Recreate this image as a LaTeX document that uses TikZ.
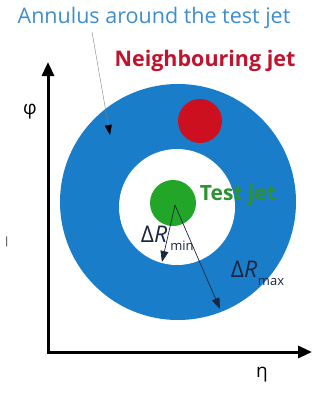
\documentclass[tikz,border=0pt]{standalone}
\usepackage{fontspec}
\setmainfont{Open Sans}
\usetikzlibrary{arrows.meta}
\definecolor{annulusblue}{HTML}{1A7DCA}
\definecolor{labelblue}{HTML}{3C8ECF}
\definecolor{jetred}{HTML}{CC1020}
\definecolor{redtext}{HTML}{C0142E}
\definecolor{jetgreen}{HTML}{22A628}
\definecolor{greentext}{HTML}{2E9232}
\definecolor{deltanavy}{HTML}{1C2640}
\tikzset{
  axis/.style={line width=3pt, -{Triangle[length=14pt,width=12pt]}},
  rarrow/.style={line width=0.7pt, deltanavy, -{Triangle[length=11pt,width=8pt]}},
  deltalabel/.style={text=deltanavy, font=\fontsize{23}{26}\selectfont, inner sep=0pt}
}
\begin{document}
\begin{tikzpicture}[x=1pt, y=-1pt]
\useasboundingbox (0,0) rectangle (323,394);
% annulus and jets
  \fill[annulusblue] (178,202) circle (118);
  \fill[white] (177,207) circle (58);
  \fill[jetgreen] (173,203) circle (23);
  \fill[jetred] (200,121) circle (22);
% axes
\coordinate (origin) at (48,352);
\coordinate (phitop) at (48,62);
\coordinate (etaend) at (312,352);
\draw[axis] ([yshift=-1.5pt]origin) -- (phitop);
\draw[axis] ([xshift=-1.5pt]origin) -- (etaend);
\node (phi) at (30,112) {\fontsize{19}{22}\selectfont φ};
\node (eta) at (262,375) {\fontsize{19}{22}\selectfont η};
\node (tick) at (7,242) {\fontsize{10}{12}\selectfont |};
% labels
\node[text=labelblue, inner sep=0pt] (annulus) at (154,18) {\fontsize{21.5}{25}\selectfont Annulus around the test jet};
\node[text=redtext, inner sep=0pt] (neighbour) at (205,61) {\fontsize{21.5}{25}\selectfont\bfseries Neighbouring jet};
\node[text=greentext, inner sep=0pt] (testjet) at (238,195) {\fontsize{21}{24}\selectfont\bfseries Test jet};
\coordinate (annfrom) at (92,32);
\coordinate (annto) at (110,135);
\draw[gray, -{Triangle[black,length=10pt,width=7pt]}] (annfrom) -- (annto);
% radii
\coordinate (centre) at (175,205);
\coordinate (rmin) at (162,262);
\coordinate (rmax) at (220,309);
\draw[rarrow] (centre) -- (rmin);
\draw[rarrow] (centre) -- (rmax);
\node[deltalabel] (dmin) at (154,234) {Δ\textit{R}};
\node[deltalabel, font=\fontsize{13}{15}\selectfont] (dminsub) at (182,246) {min};
\node[deltalabel] (dmax) at (244,269) {Δ\textit{R}};
\node[deltalabel, font=\fontsize{13}{15}\selectfont] (dmaxsub) at (271,282) {max};
\end{tikzpicture}
\end{document}
